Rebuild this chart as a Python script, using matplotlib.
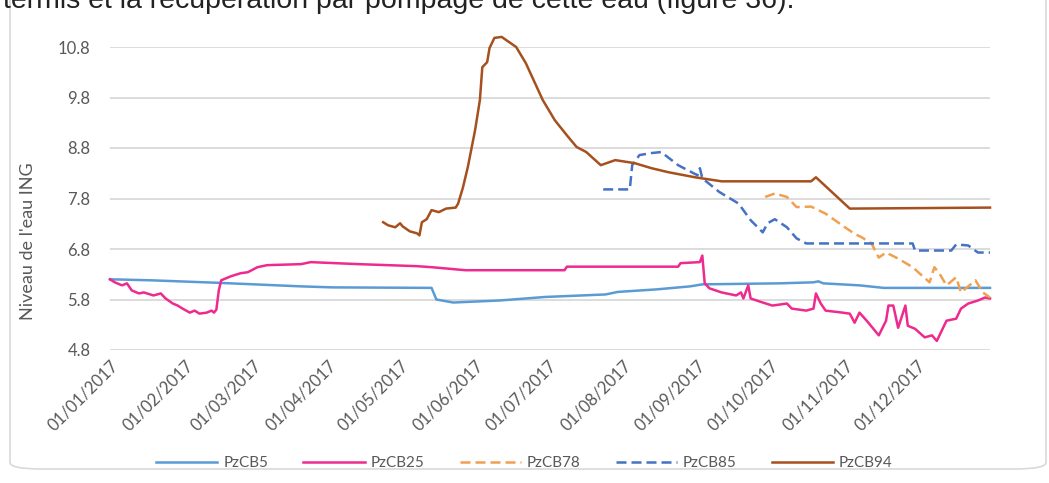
import numpy as np
import pandas as pd
import matplotlib
import matplotlib.pyplot as plt
import matplotlib.dates as mdates
from matplotlib.patches import FancyBboxPatch
matplotlib.use('Agg')

plt.rcParams['font.family'] = ['Lato', 'DejaVu Sans']

start = pd.Timestamp('2017-01-01')

# day of year (0 = 01/01/2017) and level
cb5_days = [0, 17, 45, 79, 92, 133, 135, 142, 161, 180, 205, 210, 226, 240, 245,
            277, 291, 293, 295, 310, 320, 364]
cb5_vals = [6.2, 6.18, 6.13, 6.06, 6.04, 6.03, 5.8, 5.74, 5.78, 5.85, 5.9, 5.95, 6.0, 6.06, 6.1,
            6.12, 6.14, 6.16, 6.12, 6.08, 6.03, 6.03]

cb25_days = [0, 2, 5, 7, 9, 12, 14, 18, 21, 23, 26, 28, 30, 33, 35, 37, 40, 42, 43, 44,
             45, 46, 50, 54, 57, 61, 65, 79, 83, 103, 127, 133, 147, 188, 189, 235, 236,
             244, 245, 246, 248, 253, 259, 261, 262, 264, 265, 270, 274, 280, 282, 288,
             291, 292, 294, 296, 303, 306, 308, 310, 313, 318, 321, 322, 324, 326, 329,
             330, 333, 337, 340, 342, 344, 346, 350, 352, 355, 359, 362, 364]
cb25_vals = [6.2, 6.14, 6.08, 6.12, 5.98, 5.92, 5.94, 5.88, 5.92, 5.82, 5.72, 5.68, 5.62,
             5.54, 5.58, 5.52, 5.54, 5.58, 5.54, 5.6, 5.98, 6.18, 6.26, 6.32, 6.34, 6.44,
             6.48, 6.5, 6.54, 6.5, 6.46, 6.44, 6.38, 6.38, 6.45, 6.45, 6.52, 6.54, 6.67,
             6.12, 6.02, 5.94, 5.88, 5.94, 5.82, 6.08, 5.82, 5.74, 5.68, 5.72, 5.62, 5.58,
             5.62, 5.92, 5.72, 5.58, 5.54, 5.52, 5.34, 5.54, 5.38, 5.09, 5.38, 5.68, 5.68,
             5.24, 5.68, 5.28, 5.22, 5.05, 5.09, 4.98, 5.18, 5.38, 5.42, 5.62, 5.72, 5.78,
             5.84, 5.82]

cb78_days = [271, 275, 280, 284, 290, 296, 304, 308, 311, 315, 318, 321, 326, 332, 339,
             341, 343, 346, 350, 352, 358, 361, 364]
cb78_vals = [7.83, 7.9, 7.83, 7.63, 7.64, 7.5, 7.23, 7.1, 7.03, 6.91, 6.63, 6.73, 6.61,
             6.44, 6.14, 6.44, 6.32, 6.08, 6.24, 5.94, 6.18, 5.94, 5.84]

cb85_days = [204, 215, 216, 219, 224, 228, 235, 243, 244, 245, 252, 260, 265, 270, 272,
             275, 280, 284, 288, 332, 333, 348, 350, 355, 359, 364]
cb85_vals = [7.98, 7.98, 8.46, 8.66, 8.7, 8.72, 8.46, 8.26, 8.4, 8.2, 7.93, 7.7, 7.37,
             7.13, 7.31, 7.39, 7.23, 7.01, 6.91, 6.91, 6.77, 6.77, 6.89, 6.87, 6.73, 6.73]

cb94_days = [113, 115, 118, 120, 121, 124, 127, 128, 129, 131, 133, 136, 139, 143, 144,
             146, 148, 151, 153, 154, 156, 157, 159, 162, 165, 168, 172, 179, 184, 189,
             193, 197, 203, 209, 217, 224, 231, 242, 253, 290, 292, 306, 364]
cb94_vals = [7.33, 7.27, 7.23, 7.31, 7.25, 7.15, 7.11, 7.07, 7.33, 7.39, 7.57, 7.53, 7.6,
             7.62, 7.7, 8.02, 8.42, 9.15, 9.75, 10.4, 10.5, 10.78, 10.98, 11.0, 10.9, 10.8,
             10.48, 9.75, 9.35, 9.05, 8.82, 8.72, 8.46, 8.56, 8.5, 8.4, 8.32, 8.22, 8.14,
             8.14, 8.22, 7.6, 7.62]

series = [
    ('PzCB5', cb5_days, cb5_vals, '#5B9BD5', '-'),
    ('PzCB25', cb25_days, cb25_vals, '#EE2A8E', '-'),
    ('PzCB78', cb78_days, cb78_vals, '#F0A050', (0, (4, 2))),
    ('PzCB85', cb85_days, cb85_vals, '#4472C4', (0, (4, 2))),
    ('PzCB94', cb94_days, cb94_vals, '#A5501E', '-'),
]

yticks = [4.8, 5.8, 6.8, 7.8, 8.8, 9.8, 10.8]
month_ticks = pd.date_range('2017-01-01', '2017-12-01', freq='MS')

W, H = 1049, 483
fig = plt.figure(figsize=(W / 100, H / 100), dpi=100)
fig.patches.append(FancyBboxPatch((10 / W, 14 / H), 1036 / W, 480 / H,
                                  boxstyle='round,pad=0,rounding_size=0.03',
                                  transform=fig.transFigure, facecolor='white',
                                  edgecolor='#D9D9D9', linewidth=1.2, zorder=-1,
                                  mutation_aspect=H / W))
fig.text(3 / W, 1 - 8 / H, 'termis et la récupération par pompage de cette eau (figure 36).',
         family=['Liberation Sans', 'DejaVu Sans'], fontsize=20.5, va='baseline', ha='left',
         color='#222222')

ax = fig.add_axes([110 / W, 1 - 350 / H, 880 / W, 303 / H])
ax.set_facecolor('none')

for name, days, vals, color, ls in series:
    dates = start + pd.to_timedelta(days, unit='D')
    ax.plot(dates, vals, color=color, linestyle=ls, linewidth=1.8, label=name,
            clip_on=False, zorder=3)

ax.set_xlim(start, start + pd.Timedelta(days=364))
ax.set_ylim(4.8, 10.8)
ax.set_yticks(yticks)
ax.set_yticklabels([f'{v:.1f}' for v in yticks])
ax.set_xticks(month_ticks)
ax.set_xticklabels([d.strftime('%d/%m/%Y') for d in month_ticks], rotation=45,
                   ha='right', va='top', rotation_mode='anchor')
ax.grid(axis='y', color='#D9D9D9', linewidth=1.3, zorder=0)
ax.tick_params(axis='y', length=0, pad=14, labelsize=12, labelcolor='#595959')
ax.tick_params(axis='x', length=0, pad=5, labelsize=12, labelcolor='#595959')
for s in ax.spines.values():
    s.set_visible(False)
ax.set_ylabel("Niveau de l'eau ING", fontsize=13, color='#595959')
ax.yaxis.set_label_coords(-74 / 880, 0.36)

fig.legend(loc='center', bbox_to_anchor=(0.5, 1 - 463 / H), ncol=5, frameon=False,
           fontsize=11, handlelength=4.0, columnspacing=2.3, handletextpad=0.4,
           labelcolor='#595959')

fig.savefig('out.png', dpi=100)
plt.close('all')
